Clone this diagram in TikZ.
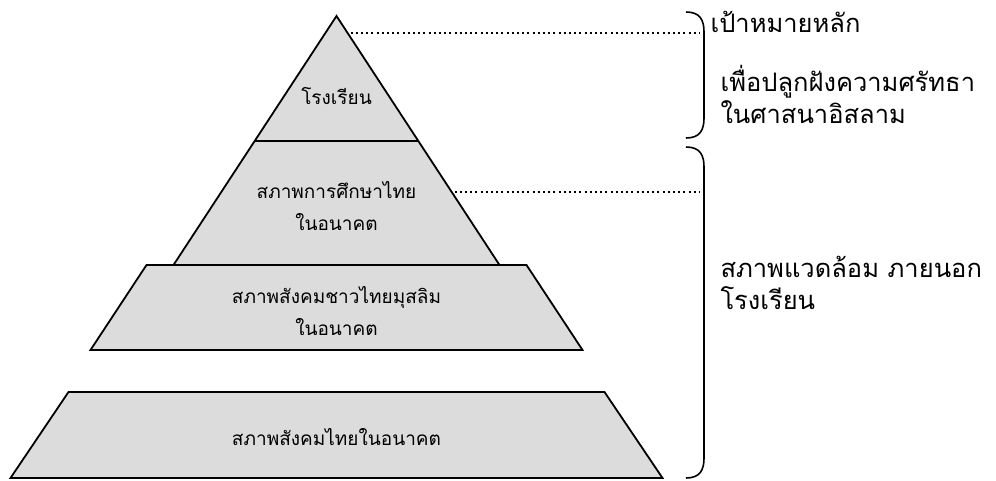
\documentclass[tikz,border=0pt]{standalone}
\usepackage{fontspec}
\newfontfamily\thaifont[Script=Thai]{Loma}
\usetikzlibrary{calc}

\definecolor{layergray}{RGB}{220,220,220}

\begin{document}
\begin{tikzpicture}[x=1pt, y=-1pt]
    \tikzstyle{layer} = [draw=black, fill=layergray, line width=1.8pt, line join=miter]
    \tikzstyle{inlabel} = [font=\thaifont\fontsize{19}{32}\selectfont, align=center]
    \tikzstyle{sidelabel} = [font=\thaifont\fontsize{25.5}{32}\selectfont, align=left, anchor=west]
    \tikzstyle{guide} = [line width=2pt, dash pattern=on 2pt off 3.2pt]
    \tikzstyle{bracket} = [line width=1.6pt]

    \useasboundingbox (0,0) rectangle (996,480);

    % Pyramid ------------------------------------------
    \coordinate (apex) at (336.5, 16);
    \coordinate (T1l) at ($(apex) + (-82, 125)$);
    \coordinate (T1r) at ($(apex) + (82, 125)$);
    \coordinate (T2l) at ($(apex) + (-163, 249)$);
    \coordinate (T2r) at ($(apex) + (163, 249)$);

    \coordinate (M1) at ($(apex) + (-190, 249)$);
    \coordinate (M2) at ($(apex) + (190, 249)$);
    \coordinate (M3) at ($(apex) + (246, 334)$);
    \coordinate (M4) at ($(apex) + (-246, 334)$);

    \coordinate (B1) at ($(apex) + (-268, 376)$);
    \coordinate (B2) at ($(apex) + (268, 376)$);
    \coordinate (B3) at ($(apex) + (326, 462)$);
    \coordinate (B4) at ($(apex) + (-326, 462)$);

    \draw[layer] (B1) -- (B2) -- (B3) -- (B4) -- cycle;
    \draw[layer] (M1) -- (M2) -- (M3) -- (M4) -- cycle;
    \draw[layer] (apex) -- (T2r) -- (T2l) -- cycle;
    \draw[layer] (T1l) -- (T1r);

    \node (school) at ($(apex) + (0, 80)$) [inlabel] {โรงเรียน};
    \node (edu) at ($(apex) + (0, 190)$) [inlabel] {สภาพการศึกษาไทย\\ในอนาคต};
    \node (muslim) at ($(apex) + (0, 295)$) [inlabel] {สภาพสังคมชาวไทยมุสลิม\\ในอนาคต};
    \node (society) at ($(apex) + (0, 421)$) [inlabel] {สภาพสังคมไทยในอนาคต};
    % ---------------------------------------------------

    % Brackets
    \coordinate (br1top) at (686, 12);
    \coordinate (br1bot) at (686, 138);
    \coordinate (br2top) at (686, 147);
    \coordinate (br2bot) at (686, 478);

    \draw[bracket] (br1top) .. controls (700, 12) and (704, 20) .. (704, 32)
        -- (704, 118) .. controls (704, 130) and (700, 138) .. (br1bot);
    \draw[bracket] (br2top) .. controls (700, 147) and (704, 155) .. (704, 167)
        -- (704, 458) .. controls (704, 470) and (700, 478) .. (br2bot);

    % Guides
    \coordinate (g1a) at ($(apex) + (14, 17)$);
    \coordinate (g1b) at (700, 33);
    \coordinate (g2a) at ($(apex) + (118, 176)$);
    \coordinate (g2b) at (700, 192);
    \draw[guide] (g1a) -- (g1b);
    \draw[guide] (g2a) -- (g2b);

    % Side texts
    \node (goal) at (707, 22) [sidelabel] {เป้าหมายหลัก};
    \node (faith) at (717, 94) [sidelabel] {เพื่อปลูกฝังความศรัทธา\\ในศาสนาอิสลาม};
    \node (outside) at (717, 283) [sidelabel] {สภาพแวดล้อม ภายนอก\\โรงเรียน};
\end{tikzpicture}
\end{document}
